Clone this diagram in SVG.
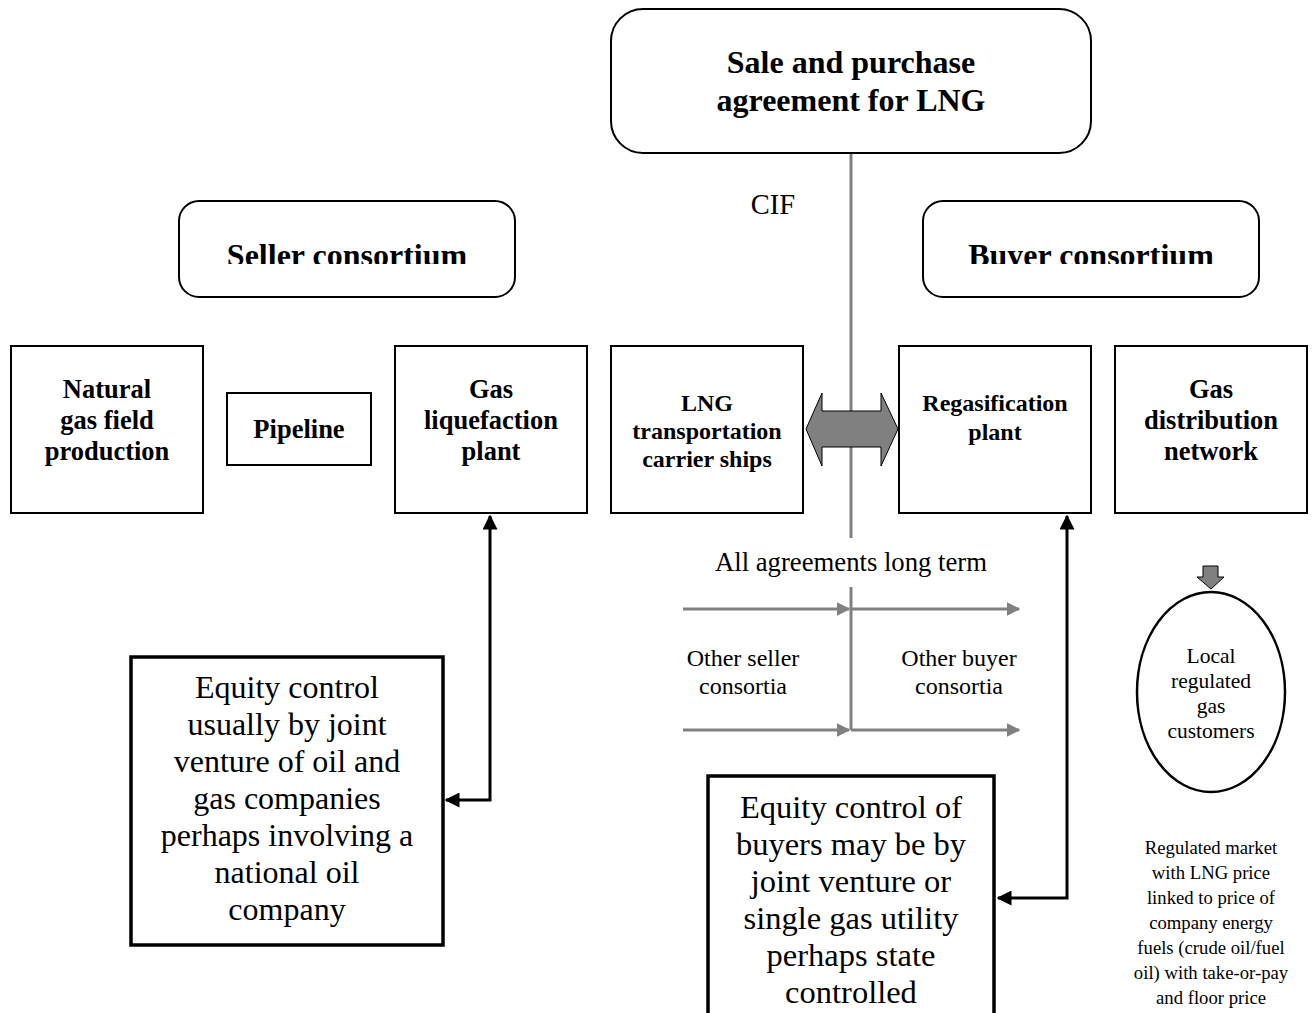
<svg xmlns="http://www.w3.org/2000/svg" width="1313" height="1013" viewBox="0 0 1313 1013">
  <style>
    .box { fill: #ffffff; stroke: #000000; stroke-width: 2; }
    .heavy { fill: #ffffff; stroke: #000000; stroke-width: 3.5; }
    .bold { font-family: "Liberation Serif", "Times New Roman", serif; font-weight: bold; fill: #000000; text-anchor: middle; }
    .plain { font-family: "Liberation Serif", "Times New Roman", serif; fill: #000000; text-anchor: middle; }
    .grayline { stroke: #808080; stroke-width: 3; fill: none; }
    .blackline { stroke: #000000; stroke-width: 3; fill: none; }
  </style>
  <defs>
    <marker id="blackHead" viewBox="0 0 10 10" refX="9" refY="5" markerWidth="5" markerHeight="5" orient="auto-start-reverse" markerUnits="strokeWidth">
      <path d="M0,0 L10,5 L0,10 Z" fill="#000000"/>
    </marker>
    <marker id="grayHead" viewBox="0 0 10 10" refX="9" refY="5" markerWidth="4.5" markerHeight="4.5" orient="auto" markerUnits="strokeWidth">
      <path d="M0,0 L10,5 L0,10 Z" fill="#808080"/>
    </marker>
    <clipPath id="sellerClip"><rect x="179" y="201" width="336" height="63"/></clipPath>
    <clipPath id="buyerClip"><rect x="923" y="201" width="336" height="63"/></clipPath>
  </defs>

  <rect width="1313" height="1013" fill="#ffffff"/>

  <!-- connectors -->
  <g id="connectors">
    <!-- agreement spine -->
    <line class="grayline" x1="851" y1="153" x2="851" y2="538"/>
    <polyline class="grayline" points="851,587 851,730"/>
    <!-- long term flows -->
    <line class="grayline" x1="683" y1="609" x2="849" y2="609" marker-end="url(#grayHead)"/>
    <line class="grayline" x1="851" y1="609" x2="1019" y2="609" marker-end="url(#grayHead)"/>
    <line class="grayline" x1="683" y1="730" x2="849" y2="730" marker-end="url(#grayHead)"/>
    <line class="grayline" x1="851" y1="730" x2="1019" y2="730" marker-end="url(#grayHead)"/>
    <!-- shipping link -->
    <path d="M806,429 L822,393 L822,411 L881,411 L881,393 L898,429 L881,466 L881,447 L822,447 L822,466 Z" fill="#808080" stroke="#000000" stroke-width="1"/>
    <!-- equity links -->
    <polyline class="blackline" points="490,516 490,800 446,800" marker-start="url(#blackHead)" marker-end="url(#blackHead)"/>
    <polyline class="blackline" points="1067,516 1067,898 998,898" marker-start="url(#blackHead)" marker-end="url(#blackHead)"/>
    <!-- distribution to customers -->
    <path d="M1203,566 L1218,566 L1218,577 L1224,577 L1211,589 L1197,577 L1203,577 Z" fill="#808080" stroke="#000000" stroke-width="1"/>
  </g>

  <g id="agreement">
    <rect class="box" x="611" y="9" width="480" height="144" rx="32"/>
    <text class="bold" font-size="32" x="851" y="73">Sale and purchase</text>
    <text class="bold" font-size="32" x="851" y="111">agreement for LNG</text>
  </g>

  <text class="plain" font-size="28.5" x="773" y="214">CIF</text>

  <g id="seller-consortium">
    <rect class="box" x="179" y="201" width="336" height="96" rx="20"/>
    <text class="bold" font-size="32" x="347" y="266" clip-path="url(#sellerClip)">Seller consortium</text>
  </g>

  <g id="buyer-consortium">
    <rect class="box" x="923" y="201" width="336" height="96" rx="20"/>
    <text class="bold" font-size="32" x="1091" y="266" clip-path="url(#buyerClip)">Buyer consortium</text>
  </g>

  <g id="gas-field">
    <rect class="box" x="11" y="346" width="192" height="167"/>
    <text class="bold" font-size="26.5"><tspan x="107" y="398">Natural</tspan><tspan x="107" y="429">gas field</tspan><tspan x="107" y="460">production</tspan></text>
  </g>

  <g id="pipeline">
    <rect class="box" x="227" y="393" width="144" height="72"/>
    <text class="bold" font-size="26.5" x="299" y="438">Pipeline</text>
  </g>

  <g id="liquefaction">
    <rect class="box" x="395" y="346" width="192" height="167"/>
    <text class="bold" font-size="26.5"><tspan x="491" y="398">Gas</tspan><tspan x="491" y="429">liquefaction</tspan><tspan x="491" y="460">plant</tspan></text>
  </g>

  <g id="carrier-ships">
    <rect class="box" x="611" y="346" width="192" height="167"/>
    <text class="bold" font-size="24"><tspan x="707" y="411">LNG</tspan><tspan x="707" y="439">transportation</tspan><tspan x="707" y="467">carrier ships</tspan></text>
  </g>

  <g id="regasification">
    <rect class="box" x="899" y="346" width="192" height="167"/>
    <text class="bold" font-size="24"><tspan x="995" y="411">Regasification</tspan><tspan x="995" y="440">plant</tspan></text>
  </g>

  <g id="distribution">
    <rect class="box" x="1115" y="346" width="192" height="167"/>
    <text class="bold" font-size="26.5"><tspan x="1211" y="398">Gas</tspan><tspan x="1211" y="429">distribution</tspan><tspan x="1211" y="460">network</tspan></text>
  </g>

  <text class="plain" font-size="26.7" x="851" y="571">All agreements long term</text>

  <g id="other-sellers">
    <text class="plain" font-size="24"><tspan x="743" y="666">Other seller</tspan><tspan x="743" y="694">consortia</tspan></text>
  </g>

  <g id="other-buyers">
    <text class="plain" font-size="24"><tspan x="959" y="666">Other buyer</tspan><tspan x="959" y="694">consortia</tspan></text>
  </g>

  <g id="customers">
    <ellipse cx="1211" cy="692" rx="74" ry="100" fill="#ffffff" stroke="#000000" stroke-width="2.5"/>
    <text class="plain" font-size="21.5"><tspan x="1211" y="663">Local</tspan><tspan x="1211" y="688">regulated</tspan><tspan x="1211" y="713">gas</tspan><tspan x="1211" y="738">customers</tspan></text>
  </g>

  <g id="seller-equity">
    <rect class="heavy" x="131" y="657" width="312" height="288"/>
    <text class="plain" font-size="32"><tspan x="287" y="698">Equity control</tspan><tspan x="287" y="735">usually by joint</tspan><tspan x="287" y="772">venture of oil and</tspan><tspan x="287" y="809">gas companies</tspan><tspan x="287" y="846">perhaps involving a</tspan><tspan x="287" y="883">national oil</tspan><tspan x="287" y="920">company</tspan></text>
  </g>

  <g id="buyer-equity">
    <rect class="heavy" x="708" y="776" width="286" height="250"/>
    <text class="plain" font-size="32.5"><tspan x="851" y="818">Equity control of</tspan><tspan x="851" y="855">buyers may be by</tspan><tspan x="851" y="892">joint venture or</tspan><tspan x="851" y="929">single gas utility</tspan><tspan x="851" y="966">perhaps state</tspan><tspan x="851" y="1003">controlled</tspan></text>
  </g>

  <g id="market-note">
    <text class="plain" font-size="18.7"><tspan x="1211" y="854">Regulated market</tspan><tspan x="1211" y="879">with LNG price</tspan><tspan x="1211" y="904">linked to price of</tspan><tspan x="1211" y="929">company energy</tspan><tspan x="1211" y="954">fuels (crude oil/fuel</tspan><tspan x="1211" y="979">oil) with take-or-pay</tspan><tspan x="1211" y="1004">and floor price</tspan></text>
  </g>
</svg>
